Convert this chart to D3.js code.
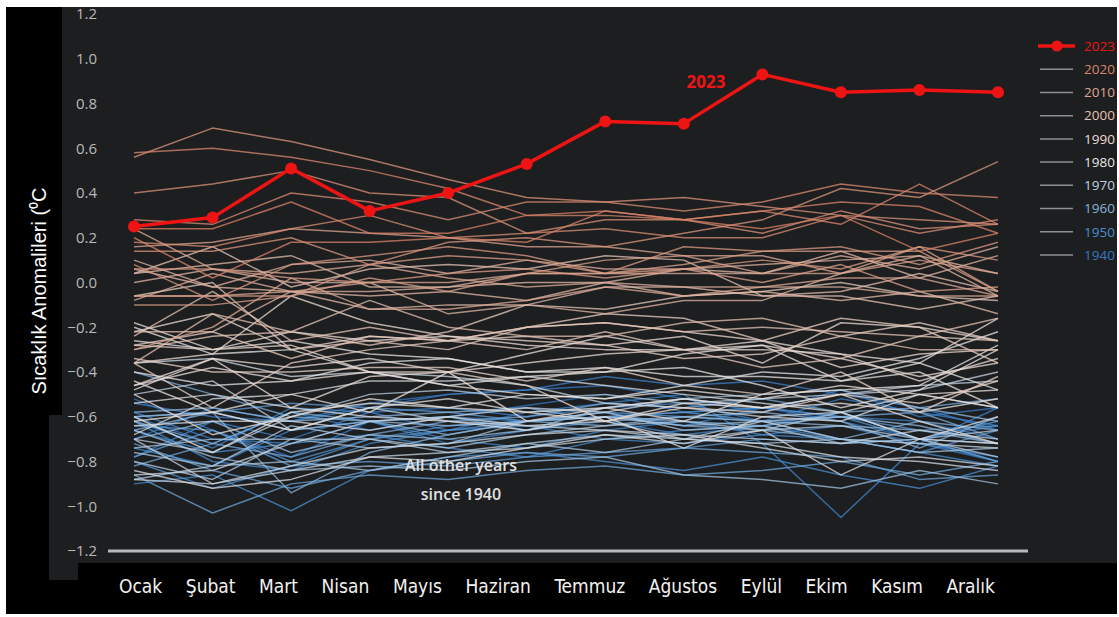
<!DOCTYPE html>
<html lang="tr">
<head>
<meta charset="utf-8">
<script src="https://cdn.jsdelivr.net/npm/d3@7"></script>
<style>
  html, body { margin: 0; padding: 0; background: #ffffff; }
  svg { display: block; }
</style>
</head>
<body>
<svg id="chart" width="1119" height="617"></svg>
<script>
// Month categories (x axis)
const months = ["Ocak", "Şubat", "Mart", "Nisan", "Mayıs", "Haziran",
                 "Temmuz", "Ağustos", "Eylül", "Ekim", "Kasım", "Aralık"];

// Y tick values and their labels
const yTicks = [1.2, 1.0, 0.8, 0.6, 0.4, 0.2, 0.0, -0.2, -0.4, -0.6, -0.8, -1.0, -1.2];

// 2023 monthly anomalies (°C)
const values2023 = [0.25, 0.29, 0.51, 0.32, 0.40, 0.53, 0.72, 0.71, 0.93, 0.85, 0.86, 0.85];

// Years drawn as background lines
const otherYears = [
  1940, 1941, 1942, 1943, 1944, 1945, 1946, 1947, 1948, 1949,
  1950, 1951, 1952, 1953, 1954, 1955, 1956, 1957, 1958, 1959,
  1960, 1961, 1962, 1963, 1964, 1965, 1966, 1967, 1968, 1969,
  1970, 1971, 1972, 1973, 1974, 1975, 1976, 1977, 1978, 1979,
  1980, 1981, 1982, 1983, 1984, 1985, 1986, 1987, 1988, 1989,
  1990, 1991, 1992, 1993, 1994, 1995, 1996, 1997, 1998, 1999,
  2000, 2001, 2002, 2003, 2004, 2005, 2006, 2007, 2008, 2009,
  2010, 2011, 2012, 2013, 2014, 2015, 2016, 2017, 2018, 2019,
  2020, 2021, 2022
];

// Monthly anomalies for each of those years, in the same order (°C)
const otherValues = [
  [-0.52,-0.66,-0.78,-0.62,-0.60,-0.55,-0.50,-0.58,-0.56,-0.62,-0.70,-0.64],
  [-0.70,-0.56,-0.62,-0.54,-0.50,-0.48,-0.46,-0.52,-0.58,-0.48,-0.60,-0.56],
  [-0.60,-0.72,-0.58,-0.66,-0.60,-0.62,-0.58,-0.64,-0.56,-0.60,-0.62,-0.70],
  [-0.78,-0.62,-0.70,-0.58,-0.56,-0.60,-0.56,-0.54,-0.62,-0.52,-0.58,-0.64],
  [-0.54,-0.60,-0.62,-0.56,-0.50,-0.48,-0.42,-0.46,-0.44,-0.50,-0.56,-0.66],
  [-0.62,-0.74,-0.56,-0.58,-0.66,-0.58,-0.54,-0.50,-0.72,-1.05,-0.72,-0.56],
  [-0.58,-0.70,-0.72,-0.62,-0.70,-0.74,-0.66,-0.62,-0.68,-0.64,-0.72,-0.80],
  [-0.74,-0.82,-0.66,-0.62,-0.72,-0.66,-0.62,-0.68,-0.64,-0.58,-0.70,-0.80],
  [-0.62,-0.80,-0.84,-0.72,-0.66,-0.64,-0.70,-0.66,-0.64,-0.70,-0.72,-0.78],
  [-0.66,-0.76,-0.72,-0.68,-0.74,-0.78,-0.70,-0.72,-0.68,-0.70,-0.76,-0.82],
  [-0.90,-0.86,-1.02,-0.84,-0.78,-0.76,-0.80,-0.84,-0.78,-0.86,-0.92,-0.82],
  [-0.80,-0.92,-0.82,-0.70,-0.64,-0.62,-0.60,-0.58,-0.56,-0.60,-0.70,-0.62],
  [-0.64,-0.66,-0.80,-0.70,-0.66,-0.62,-0.58,-0.60,-0.62,-0.70,-0.76,-0.66],
  [-0.60,-0.58,-0.54,-0.56,-0.58,-0.62,-0.60,-0.58,-0.62,-0.60,-0.66,-0.64],
  [-0.78,-0.66,-0.82,-0.80,-0.82,-0.78,-0.76,-0.74,-0.70,-0.72,-0.70,-0.80],
  [-0.72,-0.84,-0.92,-0.84,-0.80,-0.76,-0.78,-0.74,-0.76,-0.78,-0.88,-0.86],
  [-0.86,-1.03,-0.90,-0.86,-0.88,-0.84,-0.82,-0.86,-0.84,-0.80,-0.86,-0.80],
  [-0.82,-0.72,-0.78,-0.68,-0.62,-0.60,-0.54,-0.56,-0.52,-0.58,-0.56,-0.52],
  [-0.40,-0.50,-0.60,-0.62,-0.60,-0.66,-0.60,-0.62,-0.64,-0.60,-0.58,-0.70],
  [-0.62,-0.72,-0.58,-0.62,-0.68,-0.62,-0.60,-0.64,-0.66,-0.70,-0.62,-0.66],
  [-0.66,-0.58,-0.94,-0.76,-0.68,-0.62,-0.64,-0.60,-0.58,-0.62,-0.74,-0.60],
  [-0.58,-0.56,-0.62,-0.60,-0.58,-0.56,-0.62,-0.60,-0.62,-0.64,-0.66,-0.72],
  [-0.60,-0.58,-0.66,-0.62,-0.64,-0.62,-0.60,-0.64,-0.62,-0.60,-0.64,-0.72],
  [-0.70,-0.62,-0.76,-0.68,-0.70,-0.66,-0.56,-0.52,-0.50,-0.48,-0.56,-0.62],
  [-0.66,-0.78,-0.84,-0.82,-0.84,-0.80,-0.78,-0.86,-0.88,-0.92,-0.84,-0.90],
  [-0.76,-0.82,-0.80,-0.84,-0.78,-0.72,-0.76,-0.70,-0.72,-0.70,-0.76,-0.74],
  [-0.74,-0.70,-0.70,-0.74,-0.72,-0.62,-0.58,-0.66,-0.64,-0.72,-0.70,-0.72],
  [-0.80,-0.88,-0.70,-0.70,-0.74,-0.68,-0.64,-0.62,-0.66,-0.58,-0.70,-0.66],
  [-0.88,-0.82,-0.64,-0.70,-0.76,-0.72,-0.68,-0.70,-0.66,-0.64,-0.70,-0.78],
  [-0.70,-0.76,-0.60,-0.50,-0.48,-0.52,-0.50,-0.54,-0.52,-0.50,-0.46,-0.44],
  [-0.50,-0.44,-0.66,-0.56,-0.62,-0.64,-0.66,-0.70,-0.62,-0.70,-0.72,-0.74],
  [-0.70,-0.90,-0.84,-0.78,-0.76,-0.74,-0.70,-0.68,-0.70,-0.72,-0.66,-0.70],
  [-0.86,-0.84,-0.72,-0.62,-0.60,-0.56,-0.58,-0.52,-0.56,-0.50,-0.48,-0.40],
  [-0.36,-0.34,-0.42,-0.40,-0.42,-0.46,-0.54,-0.56,-0.60,-0.58,-0.70,-0.72],
  [-0.88,-0.90,-0.82,-0.74,-0.72,-0.68,-0.66,-0.68,-0.74,-0.80,-0.78,-0.82],
  [-0.64,-0.62,-0.62,-0.66,-0.60,-0.64,-0.62,-0.70,-0.72,-0.78,-0.80,-0.84],
  [-0.84,-0.92,-0.88,-0.78,-0.80,-0.74,-0.68,-0.72,-0.66,-0.86,-0.70,-0.60],
  [-0.68,-0.52,-0.50,-0.44,-0.44,-0.42,-0.46,-0.50,-0.54,-0.58,-0.50,-0.56],
  [-0.54,-0.50,-0.56,-0.60,-0.62,-0.66,-0.60,-0.74,-0.60,-0.62,-0.50,-0.56],
  [-0.60,-0.76,-0.58,-0.54,-0.56,-0.50,-0.52,-0.46,-0.40,-0.42,-0.34,-0.22],
  [-0.40,-0.46,-0.44,-0.36,-0.34,-0.40,-0.38,-0.42,-0.42,-0.44,-0.36,-0.48],
  [-0.20,-0.32,-0.30,-0.40,-0.46,-0.42,-0.40,-0.38,-0.46,-0.56,-0.48,-0.30],
  [-0.62,-0.58,-0.66,-0.56,-0.52,-0.58,-0.56,-0.62,-0.50,-0.48,-0.46,-0.28],
  [-0.26,-0.30,-0.26,-0.32,-0.34,-0.40,-0.40,-0.32,-0.28,-0.44,-0.40,-0.56],
  [-0.44,-0.58,-0.50,-0.58,-0.40,-0.62,-0.56,-0.52,-0.56,-0.50,-0.62,-0.72],
  [-0.50,-0.68,-0.60,-0.52,-0.56,-0.58,-0.62,-0.54,-0.56,-0.54,-0.58,-0.52],
  [-0.46,-0.38,-0.44,-0.40,-0.46,-0.50,-0.52,-0.48,-0.52,-0.46,-0.50,-0.48],
  [-0.48,-0.34,-0.56,-0.42,-0.40,-0.32,-0.24,-0.30,-0.26,-0.32,-0.36,-0.16],
  [-0.18,-0.30,-0.22,-0.26,-0.24,-0.28,-0.30,-0.30,-0.28,-0.34,-0.42,-0.36],
  [-0.46,-0.34,-0.38,-0.34,-0.40,-0.36,-0.32,-0.30,-0.30,-0.32,-0.44,-0.34],
  [-0.36,-0.32,-0.06,-0.18,-0.24,-0.26,-0.28,-0.24,-0.36,-0.18,-0.20,-0.26],
  [-0.22,-0.14,-0.30,-0.24,-0.26,-0.20,-0.18,-0.22,-0.26,-0.38,-0.32,-0.30],
  [-0.28,-0.30,-0.28,-0.40,-0.40,-0.46,-0.62,-0.56,-0.58,-0.50,-0.54,-0.44],
  [-0.34,-0.40,-0.40,-0.38,-0.38,-0.44,-0.38,-0.46,-0.50,-0.40,-0.58,-0.42],
  [-0.36,-0.56,-0.36,-0.30,-0.26,-0.24,-0.28,-0.34,-0.32,-0.24,-0.18,-0.26],
  [-0.06, 0.00,-0.30,-0.26,-0.30,-0.20,-0.14,-0.16,-0.26,-0.16,-0.20,-0.36],
  [-0.28,-0.22,-0.34,-0.24,-0.26,-0.30,-0.22,-0.30,-0.38,-0.34,-0.24,-0.26],
  [-0.30,-0.24,-0.22,-0.28,-0.22,-0.10,-0.12,-0.06,-0.04, 0.00,-0.06,-0.08],
  [ 0.04, 0.16,-0.02, 0.06, 0.08, 0.06, 0.12, 0.10,-0.06,-0.06,-0.12,-0.06],
  [-0.24,-0.04,-0.26,-0.20,-0.26,-0.20,-0.18,-0.22,-0.20,-0.22,-0.24,-0.16],
  [-0.36,-0.14,-0.22,-0.08,-0.20,-0.24,-0.24,-0.18,-0.16,-0.24,-0.30,-0.30],
  [-0.22,-0.22,-0.04,-0.12,-0.10,-0.10,-0.02,-0.02,-0.06,-0.04, 0.04,-0.04],
  [ 0.04, 0.08, 0.12,-0.02,-0.02, 0.00, 0.00,-0.06,-0.04,-0.08,-0.04,-0.14],
  [ 0.06,-0.02,-0.04,-0.06,-0.04,-0.08, 0.00, 0.06, 0.04, 0.14, 0.02, 0.12],
  [ 0.00, 0.06, 0.00, 0.00,-0.14,-0.10,-0.14,-0.08,-0.08, 0.04, 0.12,-0.06],
  [ 0.10,-0.02, 0.08, 0.10, 0.04, 0.10, 0.06, 0.06, 0.08, 0.10, 0.12, 0.04],
  [-0.08, 0.04,-0.04,-0.04,-0.02, 0.04, 0.04, 0.04, 0.04, 0.12, 0.06, 0.16],
  [ 0.24, 0.06, 0.04, 0.08, 0.02,-0.02, 0.00,-0.02,-0.02,-0.02,-0.06,-0.06],
  [-0.30,-0.20, 0.02,-0.12,-0.12,-0.08,-0.02,-0.06,-0.02, 0.02, 0.02,-0.06],
  [-0.06,-0.06,-0.04, 0.00, 0.00, 0.04, 0.10, 0.12, 0.12, 0.04, 0.10, 0.04],
  [ 0.16, 0.18, 0.24, 0.22, 0.20, 0.16, 0.16, 0.12, 0.04, 0.04, 0.16,-0.04],
  [-0.06,-0.06,-0.06, 0.02,-0.04, 0.04, 0.04, 0.06, 0.00, 0.08,-0.04,-0.02],
  [-0.10,-0.10,-0.06, 0.08, 0.12, 0.10, 0.04, 0.08, 0.14, 0.14, 0.14,-0.04],
  [ 0.06, 0.06, 0.02, 0.00, 0.04, 0.06, 0.02, 0.06, 0.10, 0.06, 0.16, 0.10],
  [ 0.08,-0.08, 0.08, 0.12, 0.16, 0.12, 0.04, 0.16, 0.14, 0.16, 0.08, 0.18],
  [ 0.14, 0.14, 0.20, 0.08, 0.18, 0.20, 0.16, 0.22, 0.28, 0.42, 0.38, 0.54],
  [ 0.56, 0.69, 0.63, 0.55, 0.46, 0.38, 0.36, 0.38, 0.34, 0.30, 0.28, 0.26],
  [ 0.40, 0.44, 0.50, 0.40, 0.38, 0.22, 0.28, 0.28, 0.22, 0.32, 0.24, 0.26],
  [ 0.18, 0.16, 0.24, 0.30, 0.20, 0.22, 0.24, 0.20, 0.20, 0.30, 0.22, 0.28],
  [ 0.28, 0.26, 0.40, 0.36, 0.28, 0.36, 0.36, 0.32, 0.36, 0.44, 0.40, 0.38],
  [ 0.58, 0.60, 0.56, 0.50, 0.42, 0.30, 0.30, 0.28, 0.32, 0.26, 0.44, 0.26],
  [ 0.20, 0.02, 0.18, 0.18, 0.20, 0.18, 0.32, 0.28, 0.32, 0.36, 0.34, 0.22],
  [ 0.24, 0.24, 0.36, 0.22, 0.22, 0.30, 0.32, 0.28, 0.24, 0.30, 0.14, 0.22]
];

// Legend entries
const legendYears = [2023, 2020, 2010, 2000, 1990, 1980, 1970, 1960, 1950, 1940];

// Colour stops for the year gradient (blue → white → salmon)
const colorYears = [1940, 1950, 1960, 1970, 1980, 1990, 2000, 2010, 2022];
const colorStops = ["#3579c4", "#4a8fd0", "#88b4dc", "#c2d2e0", "#e6e6e6",
                    "#eddcd3", "#e5c1b1", "#dda690", "#d88266"];

const RED = "#ee1414";

const svg = d3.select("#chart");
const W = 1119, H = 617;

// ---- backgrounds ----
svg.append("rect").attr("x", 6).attr("y", 7).attr("width", 1111).attr("height", 607).attr("fill", "#000");
const panel = "#1d1e20";
svg.append("rect").attr("x", 62).attr("y", 7).attr("width", 1055).attr("height", 556).attr("fill", panel);
svg.append("rect").attr("x", 49).attr("y", 415).attr("width", 14).attr("height", 148).attr("fill", panel);
svg.append("rect").attr("x", 49).attr("y", 562).attr("width", 29).attr("height", 18).attr("fill", panel);

// ---- scales ----
const x = d3.scalePoint().domain(months).range([134, 998]);
const y = d3.scaleLinear().domain([-1.2, 1.2]).range([551, 14]);
const color = d3.scaleLinear().domain(colorYears).range(colorStops).interpolate(d3.interpolateRgb);

// ---- y axis ----
const yAxis = svg.append("g")
  .attr("transform", "translate(97,0)")
  .call(d3.axisLeft(y).tickValues(yTicks).tickSize(0).tickPadding(0).tickFormat(d3.format(".1f")));
yAxis.select(".domain").remove();
yAxis.selectAll("text")
  .attr("fill", "#b9b9b9")
  .style("font-family", "'Open Sans', 'DejaVu Sans', sans-serif")
  .style("font-size", "15px");

// Baseline at -1.2
svg.append("line")
  .attr("x1", 108).attr("x2", 1028)
  .attr("y1", y(-1.2)).attr("y2", y(-1.2))
  .attr("stroke", "#b8b8b8").attr("stroke-width", 3);

// ---- background year lines ----
const line = d3.line().x((d, i) => x(months[i])).y(d => y(d));
svg.append("g")
  .selectAll("path")
  .data(otherValues)
  .join("path")
  .attr("d", d => line(d))
  .attr("fill", "none")
  .attr("stroke", (d, i) => color(otherYears[i]))
  .attr("stroke-width", 1.5)
  .attr("stroke-opacity", 0.75)
  .attr("stroke-linejoin", "round");

// ---- 2023 ----
svg.append("path")
  .attr("d", line(values2023))
  .attr("fill", "none")
  .attr("stroke", RED)
  .attr("stroke-width", 3.5)
  .attr("stroke-linejoin", "round");
svg.append("g")
  .selectAll("circle")
  .data(values2023)
  .join("circle")
  .attr("cx", (d, i) => x(months[i]))
  .attr("cy", d => y(d))
  .attr("r", 6)
  .attr("fill", RED);

svg.append("text")
  .attr("x", 706).attr("y", 88)
  .attr("text-anchor", "middle")
  .attr("fill", RED)
  .style("font-family", "'Open Sans', 'DejaVu Sans', sans-serif")
  .style("font-size", "17px")
  .style("font-weight", "700")
  .text("2023");

// ---- annotation ----
const note = svg.append("text")
  .attr("text-anchor", "middle")
  .attr("fill", "#e2e2e2")
  .style("font-family", "'Open Sans', 'DejaVu Sans', sans-serif")
  .style("font-size", "16px")
  .style("font-weight", "600");
note.append("tspan").attr("x", 461).attr("y", 471).text("All other years");
note.append("tspan").attr("x", 461).attr("y", 500).text("since 1940");

// ---- y axis title ----
svg.append("text")
  .attr("transform", "translate(46,291) rotate(-90)")
  .attr("text-anchor", "middle")
  .attr("fill", "#ffffff")
  .style("font-family", "'Liberation Sans', Arial, sans-serif")
  .style("font-size", "20px")
  .text("Sıcaklık Anomalileri (⁰C");

// ---- month labels, laid out as a row between the first and last data columns ----
const monthG = svg.append("g")
  .style("font-family", "'Liberation Sans Narrow', 'DejaVu Sans Condensed', 'Roboto', sans-serif")
  .style("font-stretch", "condensed")
  .style("font-size", "19px")
  .attr("fill", "#f2f2f2");
const labels = monthG.selectAll("text").data(months).join("text")
  .attr("y", 593).text(d => d);
const widths = labels.nodes().map(n => n.getComputedTextLength());
const rowLeft = 119, rowRight = 995;
const gap = (rowRight - rowLeft - d3.sum(widths)) / (months.length - 1);
let cursor = rowLeft;
labels.attr("x", (d, i) => { const p = cursor; cursor += widths[i] + gap; return p; });

// ---- legend ----
const legend = svg.append("g")
  .style("font-family", "'Open Sans', 'DejaVu Sans', sans-serif")
  .style("font-size", "13.5px");
const legendY = d3.scalePoint().domain(legendYears).range([46, 255]);
const items = legend.selectAll("g").data(legendYears).join("g")
  .attr("transform", d => `translate(0,${legendY(d)})`);
items.append("line")
  .attr("x1", d => d === 2023 ? 1038 : 1040)
  .attr("x2", d => d === 2023 ? 1075 : 1073)
  .attr("stroke", d => d === 2023 ? RED : "#8f8f8f")
  .attr("stroke-width", d => d === 2023 ? 3.5 : 1.5);
items.filter(d => d === 2023).append("circle")
  .attr("cx", 1057).attr("r", 5.5).attr("fill", RED);
items.append("text")
  .attr("x", 1084).attr("dy", "0.35em")
  .attr("fill", d => d === 2023 ? RED : color(d))
  .text(d => d);

// White frame edge on the right
svg.append("rect").attr("x", 1117).attr("y", 0).attr("width", 2).attr("height", H).attr("fill", "#fff");
</script>
</body>
</html>
